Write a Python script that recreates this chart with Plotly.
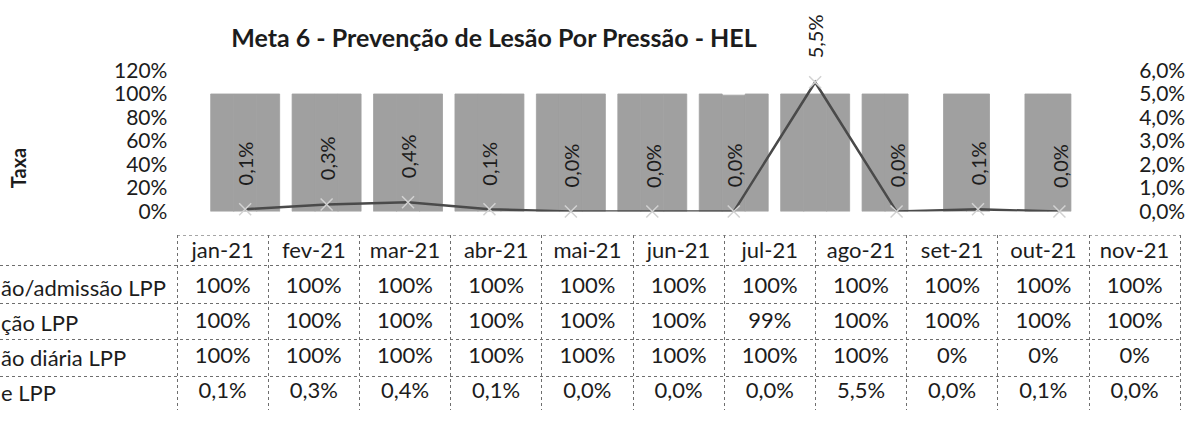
import numpy as np
import plotly.graph_objects as go

# ---- data -------------------------------------------------------------
months = ["jan-21", "fev-21", "mar-21", "abr-21", "mai-21", "jun-21",
          "jul-21", "ago-21", "set-21", "out-21", "nov-21"]
row_labels = ["ão/admissão LPP", "ção LPP", "ão diária LPP", "e LPP"]

avaliacao_admissao = [100, 100, 100, 100, 100, 100, 100, 100, 100, 100, 100]
reavaliacao = [100, 100, 100, 100, 100, 100, 99, 100, 100, 100, 100]
avaliacao_diaria = [100, 100, 100, 100, 100, 100, 100, 100, 0, 0, 0]
taxa_lpp = [0.1, 0.3, 0.4, 0.1, 0.0, 0.0, 0.0, 5.5, 0.0, 0.1, 0.0]

left_ticks = [0, 20, 40, 60, 80, 100, 120]
right_ticks = [0, 1, 2, 3, 4, 5, 6]

# ---- page geometry (pixels) -------------------------------------------
W, H = 1197, 423
FONT = "Lato"
INK = "#1c1c1c"
GRID = "#6e6e6e"
BAR = "#a0a0a0"


def fx(p):
    return p / W


def fy(p):
    return 1 - p / H


def pct0(v):
    return f"{v:.0f}%"


def pct1(v):
    return f"{v:.1f}%".replace(".", ",")


fig = go.Figure()

# grouped bars, one per indicator; a same-colour outline closes the seams
# between neighbouring bars, and is hidden on empty bars
for vals in [avaliacao_admissao, reavaliacao, avaliacao_diaria]:
    outline = [BAR if v > 0 else "rgba(0,0,0,0)" for v in vals]
    fig.add_trace(go.Bar(
        x=months, y=np.array(vals) / 100,
        marker=dict(color=BAR, line=dict(width=0.8, color=outline)),
        xaxis="x", yaxis="y", showlegend=False, hoverinfo="skip",
    ))

# rate line on the secondary axis
fig.add_trace(go.Scatter(
    x=months, y=np.array(taxa_lpp) / 100, mode="lines+markers",
    line=dict(color="#4a4a4a", width=2.5),
    marker=dict(symbol="x-thin", size=12, line=dict(width=1.5, color="#d2d2d2")),
    xaxis="x", yaxis="y2", showlegend=False, cliponaxis=False,
))

annotations = []
for m, v in zip(months, taxa_lpp):
    annotations.append(dict(
        x=m, y=v / 100, xref="x", yref="y2", text=pct1(v), textangle=-90,
        showarrow=False, xanchor="center", yanchor="bottom", yshift=22,
        font=dict(family=FONT, size=20, color=INK),
    ))

annotations.append(dict(
    x=fx(18), y=fy(164), xref="paper", yref="paper", text="Taxa", textangle=-90,
    showarrow=False, xanchor="center", yanchor="middle",
    font=dict(family=FONT, size=20, color=INK, weight="bold"),
))

# ---- data table below the chart ---------------------------------------
rows = [avaliacao_admissao, reavaliacao, avaliacao_diaria, taxa_lpp]
fmts = [pct0, pct0, pct0, pct1]

tx, ty, tt = [], [], []
for i, m in enumerate(months):
    tx.append(i + 0.5)
    ty.append(0)
    tt.append(m)
for r, (vals, f) in enumerate(zip(rows, fmts), start=1):
    for i, v in enumerate(vals):
        tx.append(i + 0.5)
        ty.append(r)
        tt.append(f(v))

fig.add_trace(go.Scatter(
    x=tx, y=ty, text=tt, mode="text", textposition="middle center",
    textfont=dict(family=FONT, size=22, color=INK),
    xaxis="x3", yaxis="y3", showlegend=False, hoverinfo="skip",
))

col_w = 91.2
x3_left = -177 / col_w
x3_right = (1182 - 177) / col_w

# row captions at the left edge of the table
for r, lab in enumerate(row_labels, start=1):
    annotations.append(dict(
        x=0, y=r, xref="paper", yref="y3", text=lab, showarrow=False,
        xanchor="left", yanchor="middle", xshift=-1,
        font=dict(family=FONT, size=22, color=INK),
    ))

# header row is a little shorter than the value rows
row_edges = [0.36, 1.44, 2.48, 3.53, 4.49]

shapes = [dict(
    type="line", xref="x3", yref="y3", x0=0, x1=len(months), y0=-0.5, y1=-0.5,
    line=dict(color=GRID, width=1, dash="dot"),
)]

fig.update_layout(
    width=W, height=H,
    margin=dict(l=0, r=0, t=0, b=0),
    paper_bgcolor="white", plot_bgcolor="rgba(0,0,0,0)",
    separators=",.",
    font=dict(family=FONT, size=20, color=INK),
    barmode="group", bargap=0.153, bargroupgap=0,
    title=dict(
        text="Meta 6 - Prevenção de Lesão Por Pressão - HEL",
        x=fx(494), xanchor="center", y=fy(38), yanchor="middle",
        font=dict(family=FONT, size=25, color=INK, weight="bold"),
    ),
    xaxis=dict(
        domain=[fx(191.6), fx(1113)], type="category", categoryorder="array",
        categoryarray=months, showticklabels=False, showgrid=False,
        showline=False, zeroline=False, ticks="",
    ),
    yaxis=dict(
        domain=[fy(210), fy(60)], range=[0, 1.2],
        tickvals=[t / 100 for t in left_ticks], tickformat=".0%",
        ticks="outside", ticklen=19, tickcolor="rgba(0,0,0,0)",
        showgrid=False, zeroline=False, showline=False,
        tickfont=dict(family=FONT, size=21, color=INK),
    ),
    yaxis2=dict(
        overlaying="y", side="right", range=[0, 0.06],
        tickvals=[t / 100 for t in right_ticks], tickformat=".1%",
        ticks="outside", ticklen=21, tickcolor="rgba(0,0,0,0)",
        showgrid=False, zeroline=False, showline=False,
        tickfont=dict(family=FONT, size=21, color=INK),
    ),
    xaxis3=dict(
        domain=[0, fx(1182)], range=[x3_left, x3_right], anchor="y3",
        tickvals=list(range(len(months) + 1)), showticklabels=False,
        showgrid=True, gridcolor=GRID, gridwidth=1, griddash="dot",
        zeroline=False, showline=False, ticks="",
    ),
    yaxis3=dict(
        domain=[fy(421), fy(235)], range=[4.5, -0.5], anchor="x3",
        tickvals=row_edges, showticklabels=False,
        showgrid=True, gridcolor=GRID, gridwidth=1, griddash="dot",
        zeroline=False, showline=False, ticks="",
    ),
    annotations=annotations,
    shapes=shapes,
)

fig.write_html("out.html")
